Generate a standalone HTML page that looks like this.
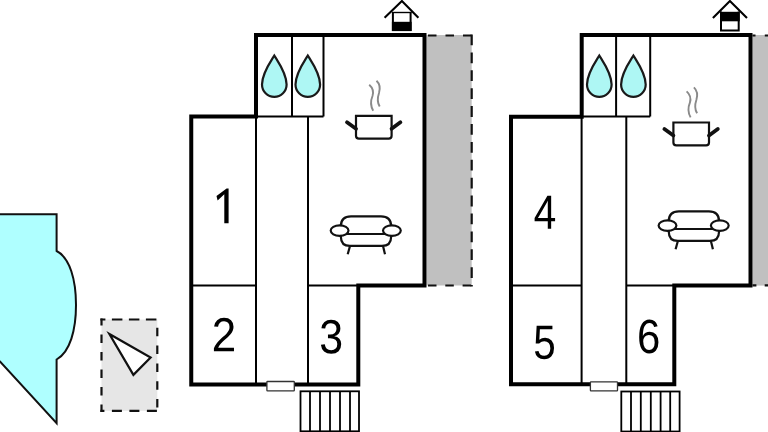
<!DOCTYPE html>
<html><head><meta charset="utf-8">
<style>
html,body{margin:0;padding:0;background:#fff;width:768px;height:432px;overflow:hidden}
svg{display:block}
text{font-family:"Liberation Sans",sans-serif;fill:#000}
</style></head><body>
<svg width="768" height="432" viewBox="0 0 768 432">
<defs>
<g id="drop"><path d="M0,0 C4,6.5 12.3,18 12.3,29 A12.3,12.3 0 0 1 -12.3,29 C-12.3,18 -4,6.5 0,0 Z" fill="#aef7f4" stroke="#1a1a1a" stroke-width="2.2"/></g>
<g id="sofa" fill="none" stroke="#111" stroke-width="2.2">
<path d="M340.9,234 V226 Q340.9,216.3 351,216.3 H381 Q391.1,216.3 391.1,226 V234"/>
<path d="M340.9,234 V237 Q340.9,245.9 350,245.9 H382 Q391.1,245.9 391.1,237 V234"/>
<line x1="345" y1="234" x2="387" y2="234"/>
<ellipse cx="339.6" cy="230.6" rx="8.9" ry="5.3" fill="#fff"/>
<ellipse cx="391.9" cy="230.6" rx="8.9" ry="5.3" fill="#fff"/>
<line x1="350" y1="246" x2="347.7" y2="254.2"/>
<line x1="383" y1="246" x2="385" y2="254.2"/>
</g>
<g id="pot">
<path d="M369.2,84.7 C373,88 374,91 372.5,96 C370,102 370.5,106 373.2,110.7" fill="none" stroke="#8a8a8a" stroke-width="1.9"/>
<path d="M376.5,80.7 C380,84 380.5,88 379,93 C377,99 377.5,103 379.7,106.6" fill="none" stroke="#8a8a8a" stroke-width="1.9"/>
<path d="M356,115.8 H391.6 V135.8 Q391.6,138.7 388.7,138.7 H358.9 Q356,138.7 356,135.8 Z" fill="#fff" stroke="#111" stroke-width="2.2"/>
<line x1="347" y1="122.3" x2="356" y2="128.8" stroke="#111" stroke-width="3.8" stroke-linecap="round"/>
<line x1="391.6" y1="128.8" x2="400.4" y2="122.3" stroke="#111" stroke-width="3.8" stroke-linecap="round"/>
</g>
</defs>

<!-- LEFT: cyan shape -->
<path d="M-5,214.3 H56.6 V251 C70,258 76,280 76,305 C76,330 70,352 56.6,359.5 V423.3 L0,361.6 L-5,361.6 Z" fill="#afffff" stroke="#111" stroke-width="2"/>
<!-- gray dashed square -->
<rect x="101.5" y="319.5" width="55.8" height="91.3" fill="#e6e6e6"/>
<g fill="none" stroke="#111" stroke-width="2.2">
<path d="M100.4,319.5 H157.3" stroke-dasharray="10.5 6.5" stroke-dashoffset="5.5"/>
<path d="M100.4,410.8 H157.3" stroke-dasharray="10 7.5" stroke-dashoffset="6"/>
<path d="M101.5,318.4 V411.9" stroke-dasharray="8.5 9" stroke-dashoffset="1.4"/>
<path d="M157.3,318.4 V411.9" stroke-dasharray="8.5 9.3" stroke-dashoffset="8.4"/>
</g>
<path d="M109.4,334 L150.6,357.6 L133.4,374.9 Z" fill="#fff" stroke="#111" stroke-width="2.2" stroke-linejoin="miter"/>
<!-- UNIT 1 -->
<rect x="426.5" y="35" width="45.2" height="250.5" fill="#c0c0c0"/>
<g fill="none" stroke="#111" stroke-width="2.2">
<path d="M426.5,35.5 H472.8" stroke-dasharray="8.5 9" stroke-dashoffset="16"/>
<path d="M471.7,34.5 V286.5" stroke-dasharray="10.8 7.1"/>
<path d="M426.5,285.5 H472.8" stroke-dasharray="8.5 8.8" stroke-dashoffset="15.8"/>
</g>
<g stroke="#000" fill="none">
<path d="M191.25,116.5 H256 V35 H424.5 V285.5 H358.3 V384.5 H191.25 Z" stroke-width="4" stroke-linejoin="miter"/>
<g stroke-width="2">
<line x1="256" y1="116.5" x2="256" y2="384.5"/>
<line x1="308" y1="116.5" x2="308" y2="384.5"/>
<line x1="292" y1="35" x2="292" y2="116.5"/>
<line x1="323.5" y1="35" x2="323.5" y2="116.5"/>
<line x1="256" y1="116.5" x2="323.5" y2="116.5"/>
<line x1="191.25" y1="285.5" x2="256" y2="285.5"/>
<line x1="308" y1="285.5" x2="358.3" y2="285.5"/>
</g>
</g>
<rect x="266.9" y="381.5" width="27.4" height="9.3" rx="0.6" fill="#fff" stroke="#333" stroke-width="1.3"/>
<g stroke="#000" stroke-width="1.8" fill="none">
<rect x="300.5" y="391.3" width="58.5" height="40"/>
<line x1="310" y1="391.3" x2="310" y2="432"/>
<line x1="320" y1="391.3" x2="320" y2="432"/>
<line x1="330" y1="391.3" x2="330" y2="432"/>
<line x1="340" y1="391.3" x2="340" y2="432"/>
<line x1="350" y1="391.3" x2="350" y2="432"/>
</g>
<!-- chimney 1 -->
<polyline points="384.6,17.8 401.9,1 418.4,17.8" fill="none" stroke="#000" stroke-width="2.1"/>
<rect x="392" y="12.5" width="19.6" height="18.5" fill="#fff"/>
<path d="M392.9,11.9 V31 M410.6,11.9 V31" fill="none" stroke="#000" stroke-width="2"/>
<path d="M392,12.5 H411.6" fill="none" stroke="#000" stroke-width="1.4"/>
<rect x="391.9" y="21.8" width="19.7" height="9.3" fill="#000"/>
<use href="#drop" transform="translate(274.3,55.6)"/>
<use href="#drop" transform="translate(307.8,55.6)"/>
<use href="#pot"/>
<use href="#sofa"/>

<!-- UNIT 2 -->
<rect x="752.5" y="35" width="40" height="250.6" fill="#c0c0c0"/>
<g fill="none" stroke="#111" stroke-width="2.2">
<path d="M752.5,35.5 H800" stroke-dasharray="3 9.3 9 8.5"/>
<path d="M752.5,285.3 H800" stroke-dasharray="3.9 8.3 9 8.5"/>
</g>
<g stroke="#000" fill="none">
<path d="M511,116.7 H581.7 V35 H750.5 V285.6 H674.3 V384.3 H511 Z" stroke-width="4" stroke-linejoin="miter"/>
<g stroke-width="2">
<line x1="581.6" y1="116.5" x2="581.6" y2="384.3"/>
<line x1="626.3" y1="116.5" x2="626.3" y2="384.3"/>
<line x1="616.1" y1="35" x2="616.1" y2="116.5"/>
<line x1="650.2" y1="35" x2="650.2" y2="116.5"/>
<line x1="581.7" y1="116.4" x2="650.2" y2="116.4"/>
<line x1="511" y1="285.5" x2="581.6" y2="285.5"/>
<line x1="626.3" y1="285.5" x2="674.3" y2="285.5"/>
</g>
</g>
<rect x="590.4" y="381.8" width="27.1" height="9" rx="0.6" fill="#fff" stroke="#333" stroke-width="1.3"/>
<g stroke="#000" stroke-width="1.8" fill="none">
<rect x="621.3" y="391.5" width="58.3" height="40"/>
<line x1="631" y1="391.5" x2="631" y2="432"/>
<line x1="640.8" y1="391.5" x2="640.8" y2="432"/>
<line x1="650.8" y1="391.5" x2="650.8" y2="432"/>
<line x1="660.6" y1="391.5" x2="660.6" y2="432"/>
<line x1="670.2" y1="391.5" x2="670.2" y2="432"/>
</g>
<polyline points="712.9,17.9 729.9,1 747,17.9" fill="none" stroke="#000" stroke-width="2.1"/>
<rect x="720" y="12" width="19.6" height="19.2" fill="#fff" stroke="none"/>
<path d="M721,11.6 V31.3 M738.7,11.6 V31.3 M720,30.4 H739.7" fill="none" stroke="#000" stroke-width="2"/>
<rect x="720" y="11.8" width="19.7" height="9.5" fill="#000"/>
<use href="#drop" transform="translate(599.3,55.6)"/>
<use href="#drop" transform="translate(633.4,55.6)"/>
<use href="#pot" transform="translate(317.4,6.7)"/>
<use href="#sofa" transform="translate(327.9,-5)"/>

<path d="M228.6,188.6 V223.2 H224.3 V194.2 L217.6,200.6 L216.5,196.0 L226.6,188.6 Z" fill="#000"/>
<path transform="translate(211.7,351.3) scale(0.021516,-0.023438)" d="M103 0V127Q154 244 227.5 333.5Q301 423 382.0 495.5Q463 568 542.5 630.0Q622 692 686.0 754.0Q750 816 789.5 884.0Q829 952 829 1038Q829 1154 761.0 1218.0Q693 1282 572 1282Q457 1282 382.5 1219.5Q308 1157 295 1044L111 1061Q131 1230 254.5 1330.0Q378 1430 572 1430Q785 1430 899.5 1329.5Q1014 1229 1014 1044Q1014 962 976.5 881.0Q939 800 865.0 719.0Q791 638 582 468Q467 374 399.0 298.5Q331 223 301 153H1036V0Z" fill="#000"/>
<path transform="translate(319.27,353.2) scale(0.020906,-0.023438)" d="M1049 389Q1049 194 925.0 87.0Q801 -20 571 -20Q357 -20 229.5 76.5Q102 173 78 362L264 379Q300 129 571 129Q707 129 784.5 196.0Q862 263 862 395Q862 510 773.5 574.5Q685 639 518 639H416V795H514Q662 795 743.5 859.5Q825 924 825 1038Q825 1151 758.5 1216.5Q692 1282 561 1282Q442 1282 368.5 1221.0Q295 1160 283 1049L102 1063Q122 1236 245.5 1333.0Q369 1430 563 1430Q775 1430 892.5 1331.5Q1010 1233 1010 1057Q1010 922 934.5 837.5Q859 753 715 723V719Q873 702 961.0 613.0Q1049 524 1049 389Z" fill="#000"/>
<path transform="translate(533.67,228.8) scale(0.019852,-0.023438)" d="M881 319V0H711V319H47V459L692 1409H881V461H1079V319ZM711 1206Q709 1200 683.0 1153.0Q657 1106 644 1087L283 555L229 481L213 461H711Z" fill="#000"/>
<path transform="translate(533.3,358.8) scale(0.019688,-0.023438)" d="M1053 459Q1053 236 920.5 108.0Q788 -20 553 -20Q356 -20 235.0 66.0Q114 152 82 315L264 336Q321 127 557 127Q702 127 784.0 214.5Q866 302 866 455Q866 588 783.5 670.0Q701 752 561 752Q488 752 425.0 729.0Q362 706 299 651H123L170 1409H971V1256H334L307 809Q424 899 598 899Q806 899 929.5 777.0Q1053 655 1053 459Z" fill="#000"/>
<path transform="translate(637.07,353) scale(0.020367,-0.023438)" d="M1049 461Q1049 238 928.0 109.0Q807 -20 594 -20Q356 -20 230.0 157.0Q104 334 104 672Q104 1038 235.0 1234.0Q366 1430 608 1430Q927 1430 1010 1143L838 1112Q785 1284 606 1284Q452 1284 367.5 1140.5Q283 997 283 725Q332 816 421.0 863.5Q510 911 625 911Q820 911 934.5 789.0Q1049 667 1049 461ZM866 453Q866 606 791.0 689.0Q716 772 582 772Q456 772 378.5 698.5Q301 625 301 496Q301 333 381.5 229.0Q462 125 588 125Q718 125 792.0 212.5Q866 300 866 453Z" fill="#000"/>
</svg>
</body></html>
